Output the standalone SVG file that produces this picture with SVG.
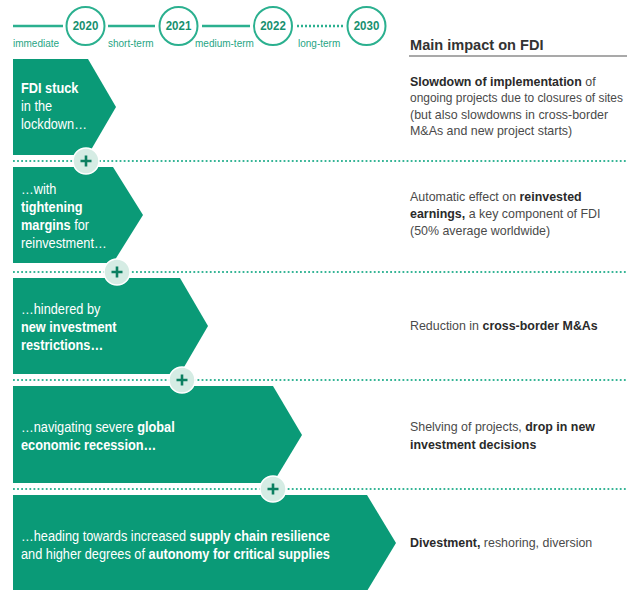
<svg xmlns="http://www.w3.org/2000/svg" width="627" height="590" viewBox="0 0 627 590">
<style>
.arrow{fill:#0a9a77}
.tl{stroke:#2bb08f;stroke-width:2.5;fill:none}
.yc{fill:#fff;stroke:#2bb08f;stroke-width:2}
.yr{font-family:"Liberation Sans",Arial,sans-serif;font-size:12.5px;font-weight:bold;fill:#17906f;text-anchor:middle}
.lab{font-family:"Liberation Sans",Arial,sans-serif;font-size:11.5px;fill:#1fa584}
.w{font-family:"Liberation Sans",Arial,sans-serif;font-size:14.5px;fill:#fff}
.r{font-family:"Liberation Sans",Arial,sans-serif;font-size:13.5px;fill:#4a4a4a}
.b{font-weight:bold}
.rb{font-weight:bold;fill:#2a2a2a}
.dot{stroke:#36b596;stroke-width:2;stroke-dasharray:1.8 2.3;fill:none}
.pc{fill:#d5ece4;stroke:#ffffff;stroke-width:1.5}
.pl{stroke:#0b7f60;stroke-width:2.6;fill:none}
</style>

<g id="timeline">
  <line class="tl" x1="13" y1="26" x2="63" y2="26"/>
  <line class="tl" x1="108" y1="26" x2="155" y2="26"/>
  <line class="tl" x1="202" y1="26" x2="250" y2="26"/>
  <line class="tl" x1="297" y1="26" x2="344" y2="26" stroke-dasharray="2 2"/>
  <circle class="yc" cx="85.5" cy="26" r="19"/>
  <circle class="yc" cx="178.5" cy="26" r="19"/>
  <circle class="yc" cx="273" cy="26" r="19"/>
  <circle class="yc" cx="366.5" cy="26" r="19"/>
  <text class="yr" transform="translate(85.5 0) scale(0.92 1)" x="0" y="30.5">2020</text>
  <text class="yr" transform="translate(178.5 0) scale(0.92 1)" x="0" y="30.5">2021</text>
  <text class="yr" transform="translate(273 0) scale(0.92 1)" x="0" y="30.5">2022</text>
  <text class="yr" transform="translate(366.5 0) scale(0.92 1)" x="0" y="30.5">2030</text>
  <text class="lab" transform="translate(13 0) scale(0.87 1)" x="0" y="47">immediate</text>
  <text class="lab" transform="translate(108 0) scale(0.87 1)" x="0" y="47">short-term</text>
  <text class="lab" transform="translate(195 0) scale(0.87 1)" x="0" y="47">medium-term</text>
  <text class="lab" transform="translate(298 0) scale(0.87 1)" x="0" y="47">long-term</text>
</g>

<g id="header">
  <text transform="translate(410 0) scale(0.94 1)" x="0" y="50.5" font-family="'Liberation Sans',Arial,sans-serif" font-size="15.5" font-weight="bold" fill="#333">Main impact on FDI</text>
  <line x1="409" y1="56" x2="627" y2="56" stroke="#555" stroke-width="1.2"/>
</g>

<g id="connectors">
  <line class="dot" x1="13" y1="161" x2="627" y2="161"/>
  <line class="dot" x1="13" y1="272" x2="627" y2="272"/>
  <line class="dot" x1="13" y1="380" x2="627" y2="380"/>
  <line class="dot" x1="13" y1="489" x2="627" y2="489"/>
</g>

<g id="stage1">
  <polygon class="arrow" points="13,59 88,59 116,107 88,155 13,155"/>
  <g transform="translate(21 0) scale(0.88 1)">
    <text class="w" x="0" y="93"><tspan class="b">FDI stuck</tspan></text>
    <text class="w" x="0" y="111">in the</text>
    <text class="w" x="0" y="129">lockdown…</text>
  </g>
  <g transform="translate(410 0) scale(0.92 1)">
    <text class="r" x="0" y="86"><tspan class="rb">Slowdown of implementation</tspan> of</text>
    <text class="r" x="0" y="119">(but also slowdowns in cross-border</text>
    <text class="r" x="0" y="135.5">M&amp;As and new project starts)</text>
  </g>
  <text class="r" transform="translate(410 0) scale(0.885 1)" x="0" y="102.5">ongoing projects due to closures of sites</text>
</g>

<g id="stage2">
  <polygon class="arrow" points="13,167 113,167 143,215 113,263 13,263"/>
  <g transform="translate(21 0) scale(0.88 1)">
    <text class="w" x="0" y="194">…with</text>
    <text class="w" x="0" y="212"><tspan class="b">tightening</tspan></text>
    <text class="w" x="0" y="230"><tspan class="b">margins</tspan> for</text>
    <text class="w" x="0" y="248">reinvestment…</text>
  </g>
  <g transform="translate(410 0) scale(0.92 1)">
    <text class="r" x="0" y="201">Automatic effect on <tspan class="rb">reinvested</tspan></text>
    <text class="r" x="0" y="218"><tspan class="rb">earnings,</tspan> a key component of FDI</text>
    <text class="r" x="0" y="235">(50% average worldwide)</text>
  </g>
</g>

<g id="stage3">
  <polygon class="arrow" points="13,278 180,278 208,326 180,374 13,374"/>
  <g transform="translate(21 0) scale(0.88 1)">
    <text class="w" x="0" y="314">…hindered by</text>
    <text class="w" x="0" y="332"><tspan class="b">new investment</tspan></text>
    <text class="w" x="0" y="350"><tspan class="b">restrictions…</tspan></text>
  </g>
  <g transform="translate(410 0) scale(0.92 1)">
    <text class="r" x="0" y="330">Reduction in <tspan class="rb">cross-border M&amp;As</tspan></text>
  </g>
</g>

<g id="stage4">
  <polygon class="arrow" points="13,386 273,386 302,435 273,483 13,483"/>
  <g transform="translate(21 0) scale(0.88 1)">
    <text class="w" x="0" y="432">…navigating severe <tspan class="b">global</tspan></text>
    <text class="w" x="0" y="450"><tspan class="b">economic recession…</tspan></text>
  </g>
  <g transform="translate(410 0) scale(0.92 1)">
    <text class="r" x="0" y="431">Shelving of projects, <tspan class="rb">drop in new</tspan></text>
    <text class="r" x="0" y="449"><tspan class="rb">investment decisions</tspan></text>
  </g>
</g>

<g id="stage5">
  <polygon class="arrow" points="13,495 367,495 396,543 367,591 13,591"/>
  <g transform="translate(21 0) scale(0.88 1)">
    <text class="w" x="0" y="541">…heading towards increased <tspan class="b">supply chain resilience</tspan></text>
    <text class="w" x="0" y="559">and higher degrees of <tspan class="b">autonomy for critical supplies</tspan></text>
  </g>
  <g transform="translate(410 0) scale(0.92 1)">
    <text class="r" x="0" y="547"><tspan class="rb">Divestment,</tspan> reshoring, diversion</text>
  </g>
</g>

<g id="plus1"><circle class="pc" cx="86" cy="161" r="13"/><path class="pl" d="M80.5,161H91.5M86,155.5V166.5"/></g>
<g id="plus2"><circle class="pc" cx="117" cy="272" r="13"/><path class="pl" d="M111.5,272H122.5M117,266.5V277.5"/></g>
<g id="plus3"><circle class="pc" cx="182" cy="380" r="13"/><path class="pl" d="M176.5,380H187.5M182,374.5V385.5"/></g>
<g id="plus4"><circle class="pc" cx="273" cy="489" r="13"/><path class="pl" d="M267.5,489H278.5M273,483.5V494.5"/></g>
</svg>
